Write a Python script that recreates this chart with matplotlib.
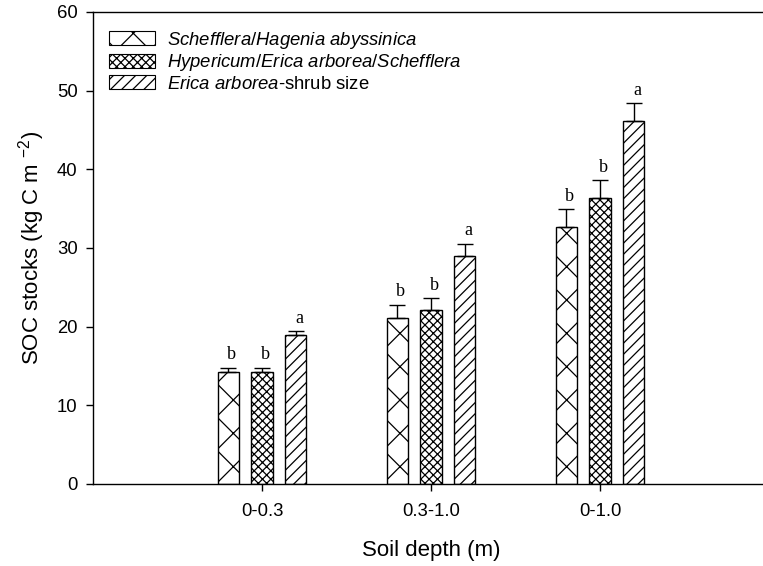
import matplotlib.pyplot as plt
import matplotlib.patches as mpatches
import numpy as np

plt.rcParams['font.family'] = ['Liberation Sans', 'DejaVu Sans']
plt.rcParams['mathtext.fontset'] = 'custom'
plt.rcParams['mathtext.rm'] = 'Liberation Sans'
plt.rcParams['mathtext.it'] = 'Liberation Sans:italic'
plt.rcParams['hatch.linewidth'] = 0.9

# data
depths = ['0-0.3', '0.3-1.0', '0-1.0']
forest_types = ['Schefflera/Hagenia abyssinica',
                'Hypericum/Erica arborea/Schefflera',
                'Erica arborea-shrub size']
soc = [
    [14.3, 21.1, 32.7],
    [14.3, 22.1, 36.4],
    [18.9, 29.0, 46.1],
]
soc_err = [
    [0.5, 1.7, 2.2],
    [0.5, 1.5, 2.2],
    [0.5, 1.5, 2.3],
]
letters = [
    ['b', 'b', 'b'],
    ['b', 'b', 'b'],
    ['a', 'a', 'a'],
]

hatches = ['x', 'xxxx', '///']
offsets = [-0.2, 0.0, 0.2]
bar_w = 0.125

fig = plt.figure(figsize=(7.63, 5.66), dpi=100)
ax = fig.add_axes([93/763, 82/566, 676/763, 472/566])

x = np.arange(1, len(depths) + 1)
for i in range(3):
    ax.bar(x + offsets[i], soc[i], width=bar_w, facecolor='white',
           edgecolor='black', linewidth=1.0, hatch=hatches[i], zorder=2)
    ax.errorbar(x + offsets[i], soc[i],
                yerr=[np.zeros(3), soc_err[i]], fmt='none', ecolor='black',
                elinewidth=1.0, capsize=5.5, capthick=1.0, zorder=3)
    for j in range(3):
        ax.text(x[j] + offsets[i] + 0.02, soc[i][j] + soc_err[i][j] + 0.6,
                letters[i][j], ha='center', va='bottom', fontsize=13,
                family='Liberation Serif')

ax.set_xlim(0, 4)
ax.set_ylim(0, 60)
ax.set_xticks(x)
ax.set_xticklabels(depths)
ax.set_yticks(np.arange(0, 61, 10))
ax.tick_params(axis='both', direction='out', length=5, width=1.0,
               labelsize=13.3)
ax.tick_params(axis='x', pad=9)
ax.tick_params(axis='y', pad=6)
ax.set_xlabel('Soil depth (m)', fontsize=16, labelpad=14)
ax.set_ylabel('SOC stocks (kg C m $^{-2}$)', fontsize=16, labelpad=7)
for s in ax.spines.values():
    s.set_linewidth(1.0)

handles = [mpatches.Patch(facecolor='white', edgecolor='black',
                          linewidth=0.8, hatch=h) for h in hatches]
labels = [r'$\it{Schefflera/Hagenia\ abyssinica}$',
          r'$\it{Hypericum/Erica\ arborea/Schefflera}$',
          r'$\it{Erica\ arborea}$-shrub size']
ax.legend(handles, labels, loc='upper left', frameon=False, fontsize=13.3,
          handlelength=2.5, handleheight=0.75, handletextpad=0.6,
          labelspacing=0.1, borderaxespad=0.3, bbox_to_anchor=(0.005, 0.99))

fig.savefig('out.png', dpi=100)
